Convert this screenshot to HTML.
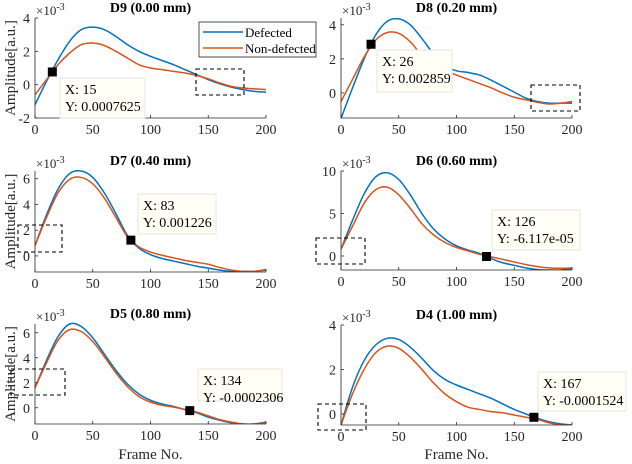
<!DOCTYPE html>
<html><head><meta charset="utf-8">
<style>
html,body{margin:0;padding:0;background:#fff;}
svg{display:block;font-family:"Liberation Serif",serif;}
</style></head>
<body>
<svg id="fig" width="632" height="464" viewBox="0 0 632 464" xmlns="http://www.w3.org/2000/svg"></svg>
<script>
const frames = [0,10,20,30,40,50,60,70,80,90,100,110,120,130,140,150,160,170,180,190,200];
const d9Def = [-1.2,0.2,1.5,2.6,3.3,3.45,3.3,2.9,2.4,2.0,1.7,1.45,1.2,0.9,0.6,0.3,0.05,-0.15,-0.3,-0.4,-0.45];
const d9Non = [-0.6,0.3,1.2,1.9,2.4,2.5,2.35,2.0,1.6,1.2,1.0,0.9,0.8,0.7,0.55,0.35,0.1,-0.1,-0.2,-0.25,-0.3];
const d8Def = [-1.5,0.3,2.0,3.4,4.2,4.35,4.0,3.2,2.3,1.6,1.3,1.2,1.05,0.75,0.4,0.05,-0.3,-0.5,-0.6,-0.6,-0.6];
const d8Non = [-0.5,0.8,2.1,3.1,3.55,3.5,3.0,2.2,1.6,1.3,1.05,0.8,0.55,0.3,0.0,-0.25,-0.4,-0.55,-0.65,-0.6,-0.5];
const d7Def = [0.8,3.2,5.2,6.4,6.6,6.1,4.9,3.3,1.6,0.6,0.1,-0.2,-0.4,-0.6,-0.8,-0.95,-1.1,-1.2,-1.2,-1.2,-1.1];
const d7Non = [0.8,3.0,4.9,5.95,6.1,5.6,4.5,3.0,1.5,0.7,0.3,0.05,-0.15,-0.35,-0.5,-0.65,-0.9,-1.1,-1.2,-1.2,-1.05];
const d6Def = [0.8,4.2,7.3,9.3,9.8,9.0,7.2,5.0,3.2,2.0,1.2,0.7,0.3,-0.3,-0.8,-1.1,-1.4,-1.6,-1.65,-1.65,-1.5];
const d6Non = [0.8,3.5,6.2,7.8,8.1,7.2,5.6,3.8,2.5,1.6,1.0,0.6,0.2,-0.1,-0.4,-0.7,-1.0,-1.25,-1.4,-1.45,-1.4];
const d5Def = [1.6,3.8,5.7,6.7,6.5,5.6,4.3,3.0,1.9,1.1,0.6,0.3,0.1,-0.15,-0.4,-0.75,-1.0,-1.2,-1.3,-1.3,-1.15];
const d5Non = [1.6,3.6,5.4,6.25,6.1,5.3,4.1,2.8,1.7,0.9,0.45,0.2,0.05,-0.15,-0.35,-0.65,-0.95,-1.15,-1.3,-1.3,-1.2];
const d4Def = [-0.5,1.2,2.4,3.1,3.4,3.35,3.0,2.5,1.95,1.55,1.3,1.1,0.9,0.7,0.45,0.2,0.0,-0.2,-0.35,-0.45,-0.5];
const d4Non = [-0.5,0.9,2.0,2.75,3.05,2.95,2.55,2.0,1.4,0.9,0.55,0.3,0.2,0.1,0.05,-0.05,-0.15,-0.25,-0.4,-0.5,-0.5];
const xTicks = [0,50,100,150,200];
const titles = ["D9 (0.00 mm)","D8 (0.20 mm)","D7 (0.40 mm)","D6 (0.60 mm)","D5 (0.80 mm)","D4 (1.00 mm)"];
const tipX = [15,26,83,126,134,167];
const tipYLabels = ["0.0007625","0.002859","0.001226","-6.117e-05","-0.0002306","-0.0001524"];
const tipY = [0.7625,2.859,1.226,-0.06117,-0.2306,-0.1524];

const NS="http://www.w3.org/2000/svg";
const svg=document.getElementById('fig');
function mk(tag,attrs,parent){const e=document.createElementNS(NS,tag);for(const k in attrs)e.setAttribute(k,attrs[k]);(parent||svg).appendChild(e);return e;}

const panels=[
 {x0:35,x1:266,top:18,bot:118,ymin:-2,ymax:4,yt:[-2,0,2,4],def:d9Def,non:d9Non,tip:[60,78,145,118],box:[196,69,244,95],name:'d9'},
 {x0:341,x1:572,top:18,bot:118,ymin:-1.47,ymax:4.4,yt:[0,2,4],def:d8Def,non:d8Non,tip:[377,50,452,92],box:[531,85,580,111],name:'d8'},
 {x0:35,x1:266,top:171,bot:272,ymin:-1.25,ymax:6.6,yt:[0,2,4,6],def:d7Def,non:d7Non,tip:[138,194,216,234],box:[18,225,62,252],name:'d7'},
 {x0:341,x1:572,top:171,bot:270,ymin:-1.65,ymax:10,yt:[0,5,10],def:d6Def,non:d6Non,tip:[492,210,580,250],box:[316,238,365,264],name:'d6'},
 {x0:35,x1:266,top:324,bot:424,ymin:-1.3,ymax:6.7,yt:[0,2,4,6],def:d5Def,non:d5Non,tip:[198,369,282,401],box:[11,369,65,395],name:'d5'},
 {x0:341,x1:572,top:325,bot:425,ymin:-0.5,ymax:4,yt:[0,2,4],def:d4Def,non:d4Non,tip:[538,372,626,411],box:[318,404,366,430],name:'d4'}
];

function pathFor(xs,ys,sx,sy){
  const p=xs.map((x,i)=>[sx(x),sy(ys[i])]);
  let d='M'+p[0][0].toFixed(2)+','+p[0][1].toFixed(2);
  for(let i=0;i<p.length-1;i++){
    const a=p[i-1]||p[i],b=p[i],c=p[i+1],e=p[i+2]||c;
    const c1=[b[0]+(c[0]-a[0])/6,b[1]+(c[1]-a[1])/6],c2=[c[0]-(e[0]-b[0])/6,c[1]-(e[1]-b[1])/6];
    d+=' C'+c1.map(v=>v.toFixed(2))+' '+c2.map(v=>v.toFixed(2))+' '+c[0].toFixed(2)+','+c[1].toFixed(2);
  }
  return d;
}

panels.forEach((P,pi)=>{
  const g=mk('g',{});
  
  
  const sx=v=>P.x0+(v-0)/(200)*(P.x1-P.x0);
  const sy=v=>P.bot-(v-P.ymin)/(P.ymax-P.ymin)*(P.bot-P.top);
  const cid='clip'+pi;
  const cp=mk('clipPath',{id:cid},g);mk('rect',{x:P.x0,y:P.top-2,width:P.x1-P.x0+1,height:P.bot-P.top+2},cp);
  const l1=mk('path',{d:pathFor(frames,P.def,sx,sy),fill:'none',stroke:'#0072BD','stroke-width':1.5,'clip-path':'url(#'+cid+')'},g);
  
  
  const l2=mk('path',{d:pathFor(frames,P.non,sx,sy),fill:'none',stroke:'#D95319','stroke-width':1.5,'clip-path':'url(#'+cid+')'},g);
  
  
  const ax=mk('path',{d:`M${P.x0},${P.top}V${P.bot}H${P.x1}`,fill:'none',stroke:'#262626','stroke-width':0.8},g);
  
  
  xTicks.forEach(t=>{
    mk('line',{x1:sx(t),x2:sx(t),y1:P.bot,y2:P.bot-3,stroke:'#262626','stroke-width':0.8},g);
    const tx=mk('text',{x:sx(t),y:P.bot+16,'text-anchor':'middle','font-size':14,fill:'#262626'},g);
    tx.textContent=t;
    
    
  });
  P.yt.forEach(t=>{
    mk('line',{x1:P.x0,x2:P.x0+3,y1:sy(t),y2:sy(t),stroke:'#262626','stroke-width':0.8},g);
    const tx=mk('text',{x:P.x0-5,y:sy(t)+5,'text-anchor':'end','font-size':14,fill:'#262626'},g);
    tx.textContent=t;
    
    
  });
  const ex=mk('text',{x:P.x0+1,y:P.top-3,'font-size':13,fill:'#262626'},g);
  ex.innerHTML='×10<tspan dy="-5" font-size="10">-3</tspan>';
  
  
  const ti=mk('text',{x:(P.x0+P.x1)/2,y:P.top-6,'text-anchor':'middle','font-size':14,'font-weight':'bold',fill:'#000'},g);
  ti.textContent=titles[pi];
  
  
  const b=P.box;
  const zb=mk('rect',{x:b[0],y:b[1],width:b[2]-b[0],height:b[3]-b[1],fill:'none',stroke:'#000','stroke-width':1.1,'stroke-dasharray':'4,3'},g);
  
  
  const T=P.tip;
  const tb=mk('rect',{x:T[0],y:T[1],width:T[2]-T[0],height:T[3]-T[1],fill:'#fffff5',stroke:'#e6e6dc','stroke-width':1},g);
  
  
  const t1=mk('text',{x:T[0]+5,y:T[1]+16,'font-size':14,fill:'#000'},g);
  t1.textContent='X: '+tipX[pi];
  
  
  const t2=mk('text',{x:T[0]+5,y:T[1]+33,'font-size':14,fill:'#000'},g);
  t2.textContent='Y: '+tipYLabels[pi];
  
  
  const mkr=mk('rect',{x:sx(tipX[pi])-4.5,y:sy(tipY[pi])-4.5,width:9,height:9,fill:'#000'},g);
  
  
  if(pi%2===0){
    const yl=mk('text',{x:0,y:0,'text-anchor':'middle','font-size':15,fill:'#262626',transform:`translate(15,${(P.top+P.bot)/2}) rotate(-90)`},g);
    yl.textContent='Amplitude[a.u.]';
    
    
  }
  if(pi>=4){
    const xl=mk('text',{x:(P.x0+P.x1)/2,y:459,'text-anchor':'middle','font-size':15,fill:'#262626'},g);
    xl.textContent='Frame No.';
    
    
  }
});
const lg=mk('g',{});


mk('rect',{x:199,y:22,width:117,height:35,fill:'#fff',stroke:'#262626','stroke-width':0.8},lg);
mk('line',{x1:203,x2:243,y1:32,y2:32,stroke:'#0072BD','stroke-width':1.5},lg);
mk('line',{x1:203,x2:243,y1:48,y2:48,stroke:'#D95319','stroke-width':1.5},lg);
const le1=mk('text',{x:245,y:37,'font-size':13,fill:'#000'},lg);le1.textContent='Defected';


const le2=mk('text',{x:245,y:53,'font-size':13,fill:'#000'},lg);le2.textContent='Non-defected';


</script>
</body></html>
